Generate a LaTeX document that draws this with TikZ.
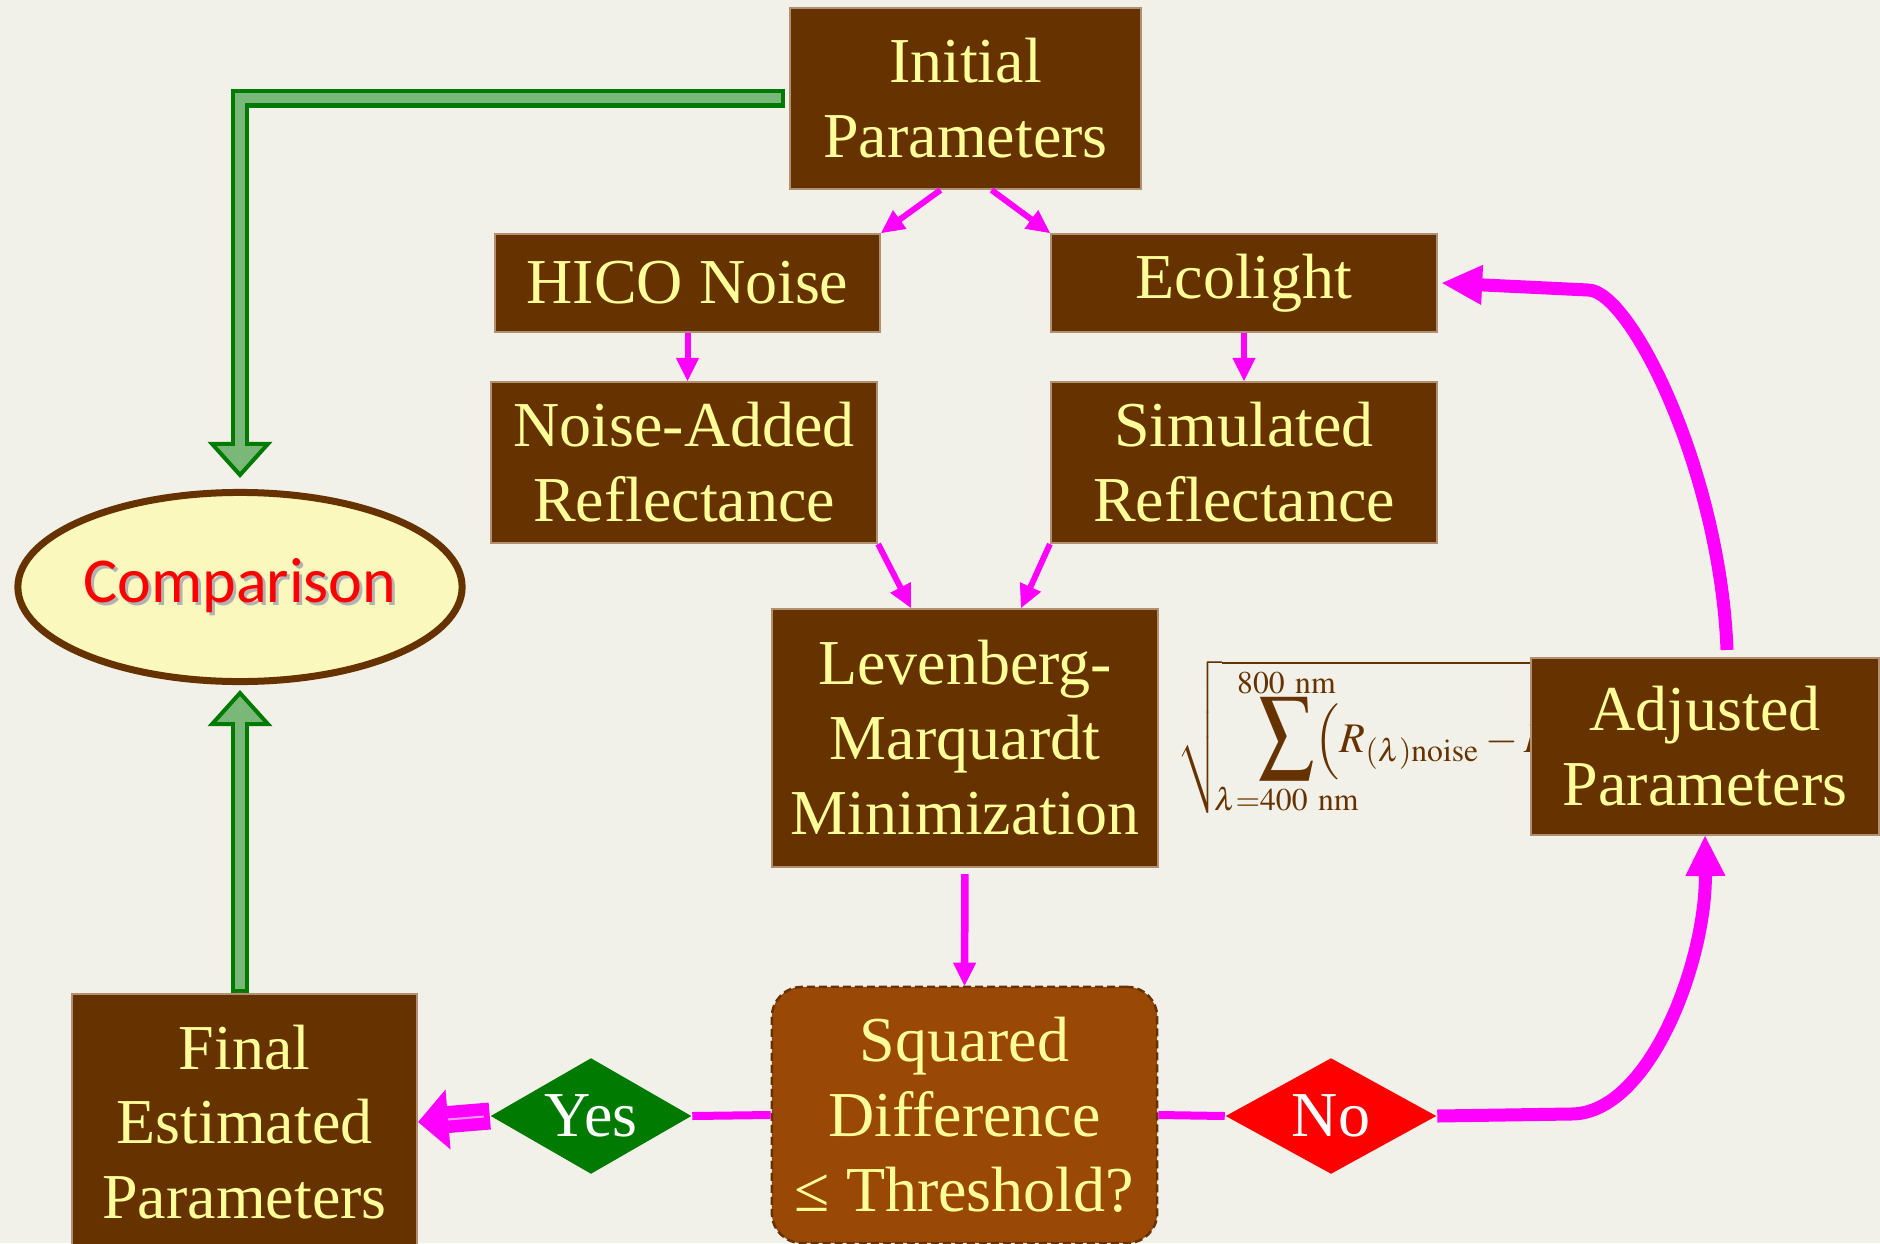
\documentclass[tikz,border=0pt]{standalone}
\usepackage{mathptmx}
\usepackage{mathtools}
\usepackage{fontspec}
\setmainfont{Liberation Serif}
\newfontfamily\calibrifont{Carlito}
\usepackage{tikz}
\usetikzlibrary{shapes,arrows.meta,positioning}

\definecolor{bgcol}{HTML}{F2F1E9}
\definecolor{boxbrown}{HTML}{663300}
\definecolor{txtyellow}{HTML}{FFFF99}
\definecolor{sqbrown}{HTML}{994806}
\definecolor{cmpfill}{HTML}{FAF8BD}
\definecolor{gdark}{HTML}{007A00}
\definecolor{glight}{HTML}{7AB87A}
\definecolor{mag}{HTML}{FF00FF}
\definecolor{maglight}{HTML}{FF99FF}
\definecolor{nored}{HTML}{FF0000}
\definecolor{edgecol}{HTML}{B09070}

\newcommand{\shadowtext}[1]{\makebox[0pt][l]{\hspace{0.3mm}\raisebox{-0.3mm}{\textcolor{black!30}{#1}}}#1}
% sum with tight limits
\newcommand{\sumblock}[2]{\vcenter{\offinterlineskip\halign{\hfil##\hfil\cr
    \clap{$\scriptstyle #2$}\cr\noalign{\kern1pt}
    \scalebox{1.3}[1.58]{$\displaystyle\sum$}\cr\noalign{\kern2pt}
    \clap{$\scriptstyle #1$}\cr}}}

\begin{document}
\begin{tikzpicture}[
    x=0.01cm, y=-0.01cm,
    box/.style={rectangle, draw=edgecol, line width=0.2mm, fill=boxbrown, text=txtyellow, align=center, inner sep=0pt, font=\fontsize{18.2}{21.3}\selectfont},
    test/.style={rectangle, rounded corners=3mm, draw=boxbrown, dash pattern=on 0.8mm off 0.4mm, line width=0.25mm, fill=sqbrown, text=txtyellow, align=center, inner sep=0pt, font=\fontsize{18.2}{21.3}\selectfont},
    answer/.style={diamond, aspect=1.73, inner sep=0pt, text=white, font=\fontsize{18.2}{21.3}\selectfont},
    arrow/.style={draw=mag, line width=0.6mm, -{Triangle[length=2.3mm, width=2.3mm, line width=0.1mm]}},
    loop/.style={draw=mag, line width=1.3mm, -{Triangle[length=4mm, width=4mm, line width=0.1mm]}},
    link/.style={draw=mag, line width=0.8mm},
    gfat/.style={draw=gdark, line width=1.8mm, -{Triangle[length=3.6mm, width=6.4mm, line width=0.4mm, fill=glight]},
        postaction={draw=glight, line width=1mm, -, shorten >=3mm, shorten <=0.4mm}},
    mfat/.style={draw=mag, line width=2.7mm, -{Triangle[length=3mm, width=6mm, line width=0.1mm, fill=mag]},
        postaction={draw=maglight, line width=0.2mm, -, shorten >=3mm, shorten <=0.6mm}}
]
    \useasboundingbox (0,0) rectangle (1880,1243);
    \fill[bgcol] (0,0) rectangle (1880,1243);
    \clip (0,0) rectangle (1880,1243);

    % boxes
    \node[box, minimum width=3.51cm, minimum height=1.81cm] (init) at (965.5,98.5) {Initial\\Parameters};
    \node[box, minimum width=3.85cm, minimum height=0.98cm] (hico) at (687.5,283) {HICO Noise};
    \node[box, minimum width=3.86cm, minimum height=0.98cm] (eco) at (1244,283) {Ecolight};
    \node[box, minimum width=3.86cm, minimum height=1.61cm] (nadd) at (684,462.5) {Noise-Added\\Reflectance};
    \node[box, minimum width=3.86cm, minimum height=1.61cm] (sim) at (1244,462.5) {Simulated\\Reflectance};
    \node[box, minimum width=3.86cm, minimum height=2.58cm] (lm) at (965,738) {Levenberg-\\Marquardt\\Minimization};
    \node[test, minimum width=3.85cm, minimum height=2.56cm] (sq) at (964.5,1115) {Squared\\Difference\\≤ Threshold?};
    \node[box, minimum width=3.45cm, minimum height=2.56cm] (fin) at (244.5,1122) {Final\\Estimated\\Parameters};

    % cost function, partly hidden
    \node[anchor=west, inner sep=0pt, text=boxbrown, font=\fontsize{12}{14}\selectfont] (rmse) at (1177,737)
        {$\displaystyle\sqrt{\hspace{3.6mm}\sumblock{\lambda=400\ \mathrm{nm}}{800\ \mathrm{nm}}\Bigl(R_{(\lambda)\mathrm{noise}}-R_{(\lambda)\mathrm{sim}}\Bigr)^{2}}$};
    \node[box, minimum width=3.48cm, minimum height=1.77cm] (adj) at (1705,746.5) {Adjusted\\Parameters};

    \node[ellipse, draw=boxbrown, line width=0.7mm, fill=cmpfill, minimum width=4.44cm, minimum height=1.89cm, inner sep=0pt,
        text=nored, font=\calibrifont\fontsize{18.2}{21}\selectfont] (cmp) at (240,587) {\shadowtext{Comparison}};

    \node[answer, fill=gdark, minimum width=2.01cm, minimum height=1.16cm] (yes) at (591,1116) {Yes};
    \node[answer, fill=nored, minimum width=2.11cm, minimum height=1.16cm] (no) at (1331,1116) {No};

    \coordinate (nobend) at (1571,1114);
    \coordinate (adjbend) at (1588,290);

    % flow
    \draw[arrow] ([xshift=-2.5mm]init.south) -- (hico.north east);
    \draw[arrow] ([xshift=2.6mm]init.south) -- (eco.north west);
    \draw[arrow] (hico.south) -- (hico.south |- nadd.north);
    \draw[arrow] (eco.south) -- (eco.south |- sim.north);
    \draw[arrow] (nadd.south east) -- ([xshift=-5.4mm]lm.north);
    \draw[arrow] (sim.south west) -- ([xshift=5.6mm]lm.north);
    \draw[arrow, line width=0.75mm, shorten <=0.6mm] (lm.south) -- (sq.north);

    \draw[link] (sq.west) -- (yes.east);
    \draw[link] (sq.east) -- (no.west);
    \draw[mfat] (yes.west) -- (fin.east);

    \draw[loop] (no.east) -- (nobend) .. controls (1650,1114) and (1706,960) .. (adj.south);
    \draw[loop] ([xshift=2.2mm, yshift=0.7mm]adj.north) .. controls (1720,470) and (1630,290) .. (adjbend) -- ([xshift=0.4mm]eco.east);

    % comparison arrows
    \draw[gfat] ([xshift=-0.4mm]init.west) -| ([yshift=1.1mm]cmp.north);
    \draw[gfat] (cmp.south |- fin.north) -- ([yshift=-0.5mm]cmp.south);
\end{tikzpicture}
\end{document}
